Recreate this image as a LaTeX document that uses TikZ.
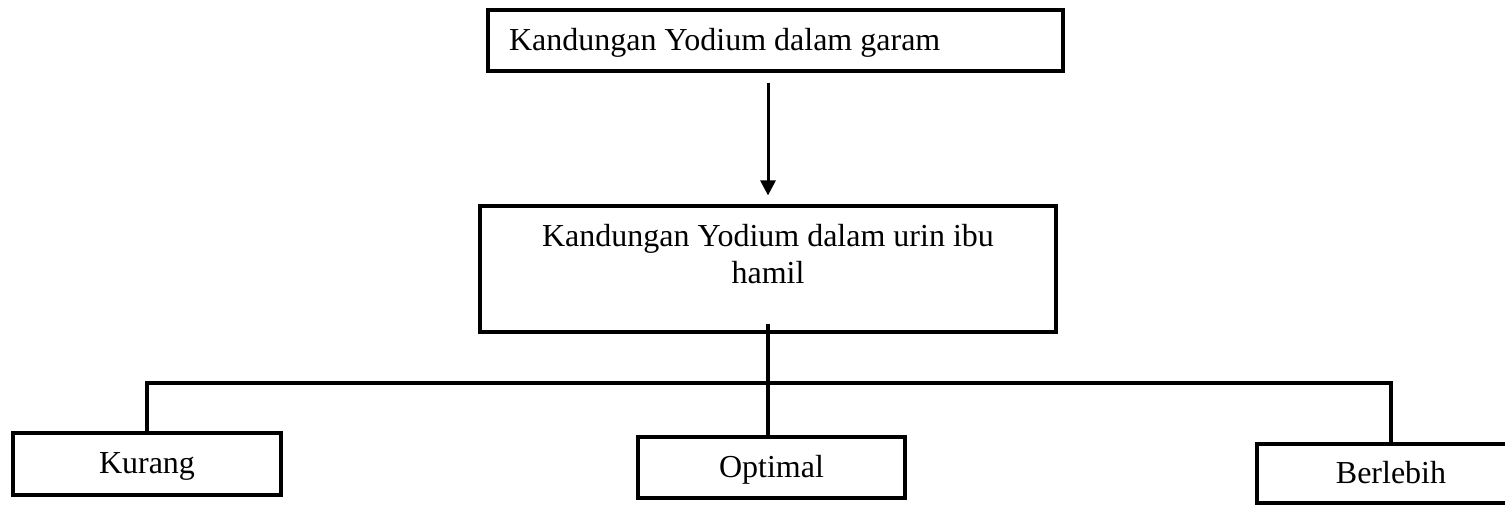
\documentclass[tikz,border=0pt]{standalone}
\usepackage{fontspec}
\setmainfont{Liberation Serif}
\usepackage{tikz}
\usetikzlibrary{arrows.meta,positioning}
\tikzstyle{box} = [draw,rectangle,line width=1.6pt,inner sep=0pt,font=\fontsize{16}{18.5}\selectfont]
\tikzstyle{leaf} = [box,text height=11pt,text depth=1.5pt]
\tikzstyle{link} = [line width=1.6pt]
\tikzstyle{flowarrow} = [line width=1.5pt,-{Triangle[length=7.5pt,width=7.5pt]}]

\begin{document}
\begin{tikzpicture}[x=0.5pt,y=-0.5pt]
        \useasboundingbox (0,0) rectangle (1505,504);
        % boxes
        \node[box,minimum width=287.5pt,minimum height=30.5pt,text height=11pt,text depth=1pt] (garam) at (775.5,40.5) {\makebox[266.5pt][l]{Kandungan Yodium dalam garam}};
        \node[box,minimum width=288pt,minimum height=63pt] (urin) at (768,269) {};
        \node[below=9.5pt of urin.north,inner sep=0pt,align=center,font=\fontsize{16}{18.5}\selectfont] (urintext) {Kandungan Yodium dalam urin ibu\\hamil};
        \node[leaf,minimum width=134pt,minimum height=31pt] (kurang) at (147,464) {Kurang};
        \node[leaf,minimum width=133.5pt,minimum height=30.5pt] (optimal) at (771.5,467.5) {Optimal};
        \node[leaf,minimum width=134pt,minimum height=29.5pt] (berlebih) at (1391,473.5) {Berlebih};
        \coordinate (split) at (768,383);
        % edges
        \draw[flowarrow,shorten <=5pt,shorten >=4.5pt] (urin.north |- garam.south) -- (urin.north);
        \draw[link] ([yshift=5pt]urin.south) -- (urin.south |- optimal.north);
        \draw[link] (kurang.north) |- (split) -| (berlebih.north);
    \end{tikzpicture}
\end{document}
